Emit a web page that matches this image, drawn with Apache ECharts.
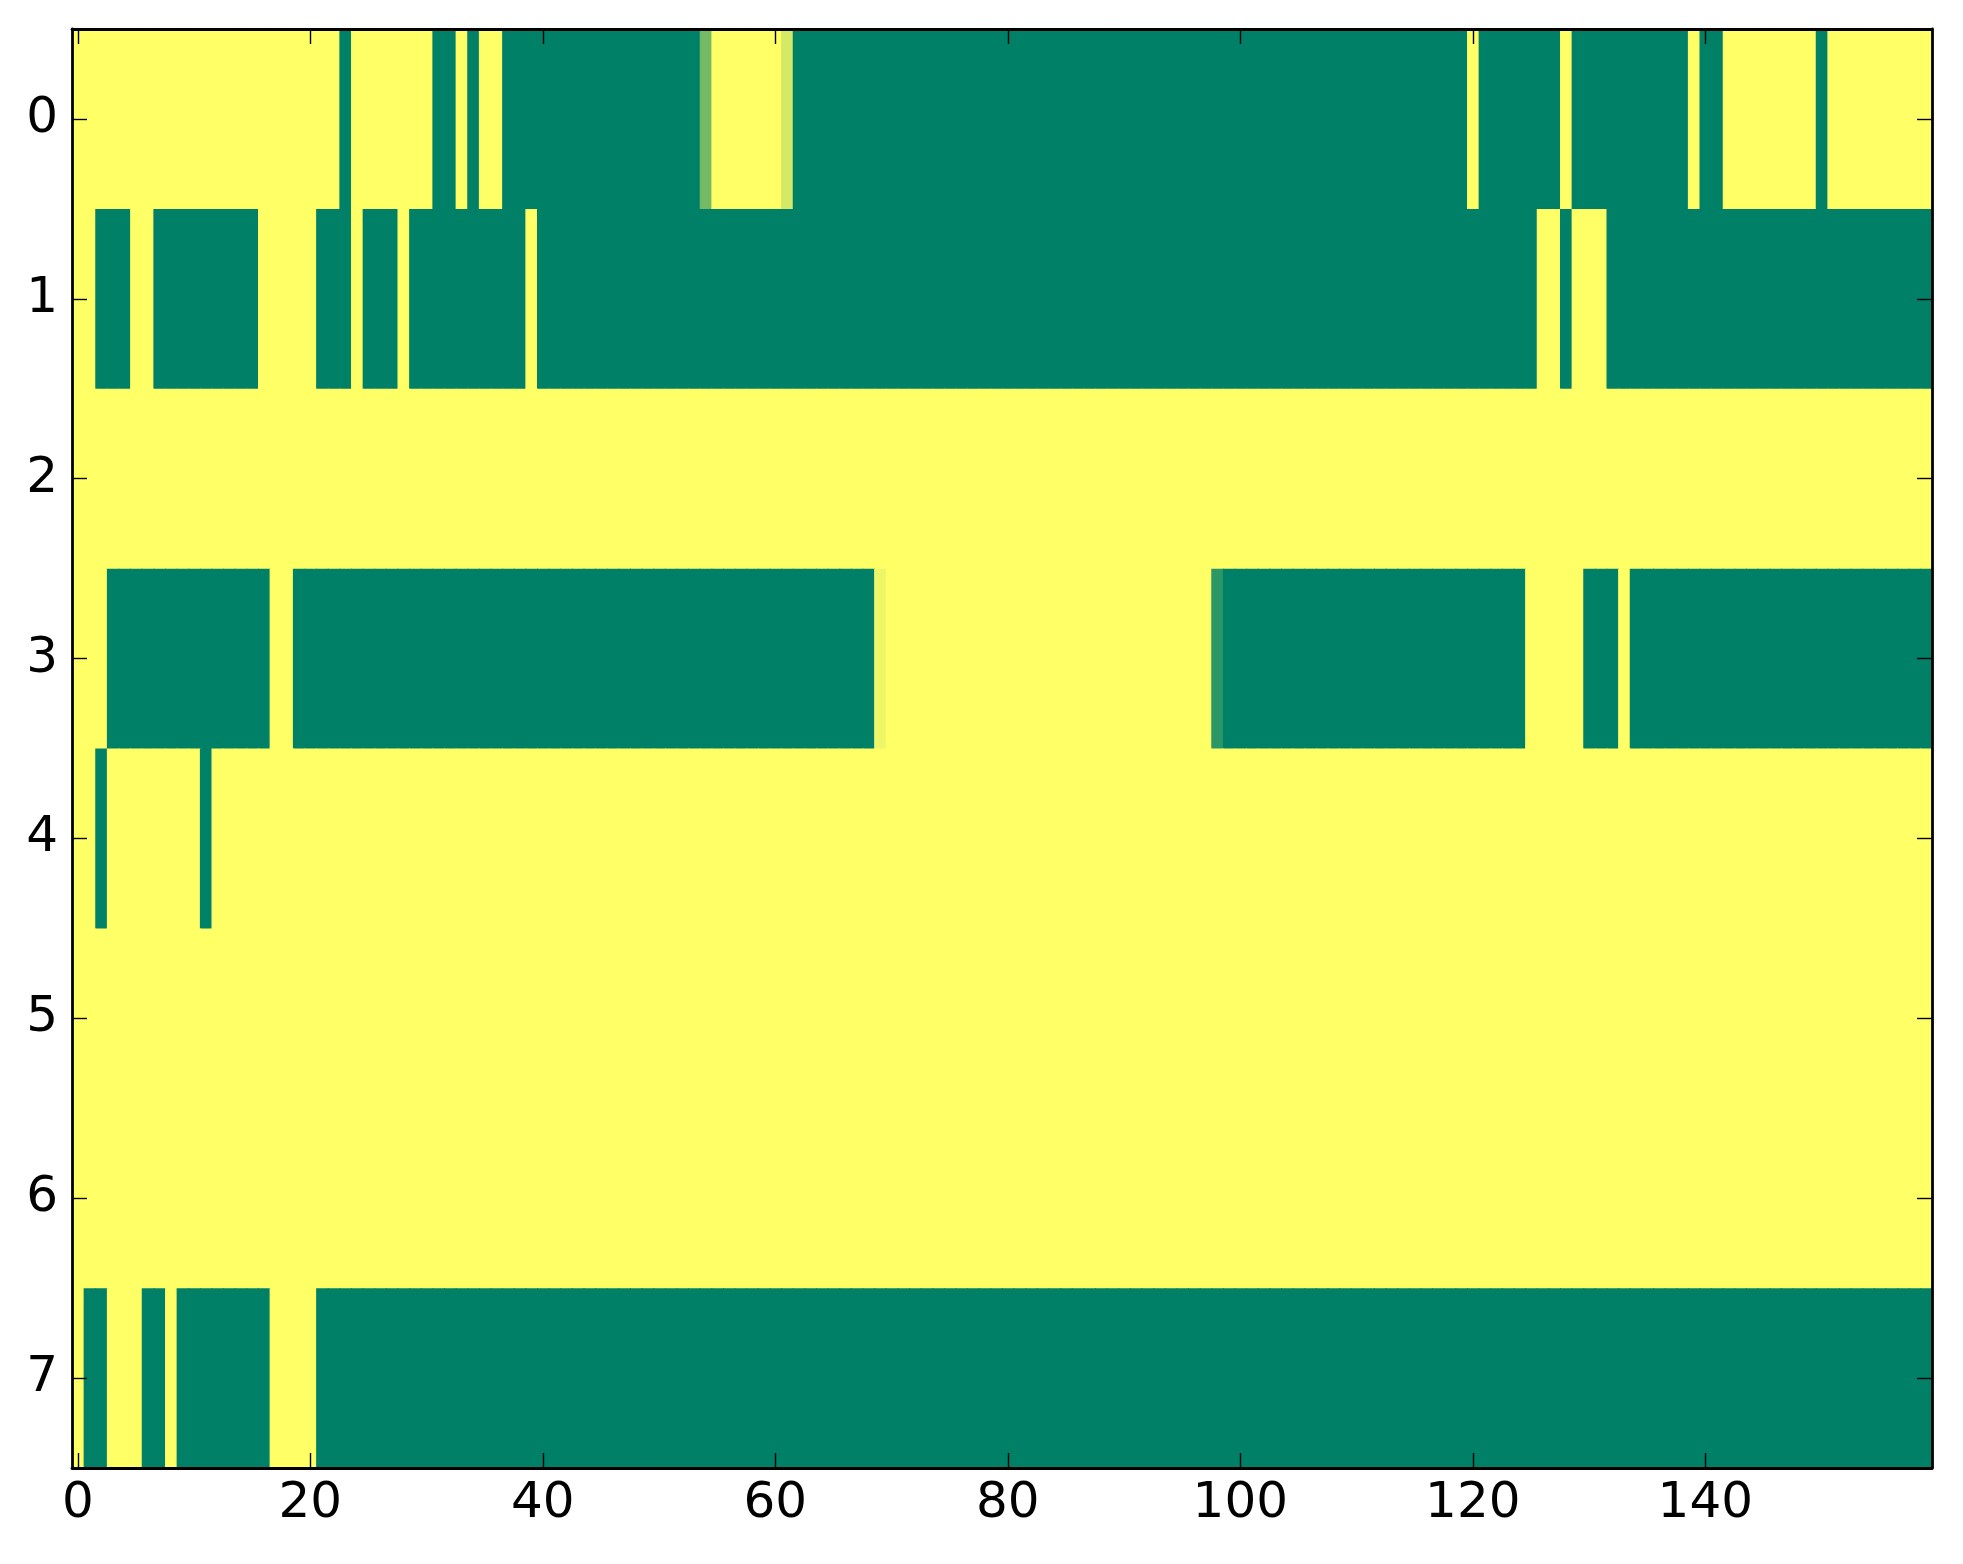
<!DOCTYPE html>
<html>
<head>
<meta charset="utf-8">
<script src="https://cdn.jsdelivr.net/npm/echarts@6/dist/echarts.min.js"></script>
<style>
html,body{margin:0;padding:0;background:#fff;}
#chart{width:1963px;height:1564px;}
</style>
</head>
<body>
<div id="chart"></div>
<script>
const xCategories = Array.from({length:160}, (_, i) => String(i));
const yCategories = ['0','1','2','3','4','5','6','7'];
const xTickLabels = ['0','20','40','60','80','100','120','140'];

const row0 = [
1,1,1,1,1,1,1,1,1,1,
1,1,1,1,1,1,1,1,1,1,
1,1,1,0,1,1,1,1,1,1,
1,0,0,1,0,1,1,0,0,0,
0,0,0,0,0,0,0,0,0,0,
0,0,0,0,0.45,1,1,1,1,1,
1,0.83,0,0,0,0,0,0,0,0,
0,0,0,0,0,0,0,0,0,0,
0,0,0,0,0,0,0,0,0,0,
0,0,0,0,0,0,0,0,0,0,
0,0,0,0,0,0,0,0,0,0,
0,0,0,0,0,0,0,0,0,0,
1,0,0,0,0,0,0,0,1,0,
0,0,0,0,0,0,0,0,0,1,
0,0,1,1,1,1,1,1,1,1,
0,1,1,1,1,1,1,1,1,1
];
const row1 = [
1,1,0,0,0,1,1,0,0,0,
0,0,0,0,0,0,1,1,1,1,
1,0,0,0,1,0,0,0,1,0,
0,0,0,0,0,0,0,0,0,1,
0,0,0,0,0,0,0,0,0,0,
0,0,0,0,0,0,0,0,0,0,
0,0,0,0,0,0,0,0,0,0,
0,0,0,0,0,0,0,0,0,0,
0,0,0,0,0,0,0,0,0,0,
0,0,0,0,0,0,0,0,0,0,
0,0,0,0,0,0,0,0,0,0,
0,0,0,0,0,0,0,0,0,0,
0,0,0,0,0,0,1,1,0,1,
1,1,0,0,0,0,0,0,0,0,
0,0,0,0,0,0,0,0,0,0,
0,0,0,0,0,0,0,0,0,0
];
const row2 = [
1,1,1,1,1,1,1,1,1,1,
1,1,1,1,1,1,1,1,1,1,
1,1,1,1,1,1,1,1,1,1,
1,1,1,1,1,1,1,1,1,1,
1,1,1,1,1,1,1,1,1,1,
1,1,1,1,1,1,1,1,1,1,
1,1,1,1,1,1,1,1,1,1,
1,1,1,1,1,1,1,1,1,1,
1,1,1,1,1,1,1,1,1,1,
1,1,1,1,1,1,1,1,1,1,
1,1,1,1,1,1,1,1,1,1,
1,1,1,1,1,1,1,1,1,1,
1,1,1,1,1,1,1,1,1,1,
1,1,1,1,1,1,1,1,1,1,
1,1,1,1,1,1,1,1,1,1,
1,1,1,1,1,1,1,1,1,1
];
const row3 = [
1,1,1,0,0,0,0,0,0,0,
0,0,0,0,0,0,0,1,1,0,
0,0,0,0,0,0,0,0,0,0,
0,0,0,0,0,0,0,0,0,0,
0,0,0,0,0,0,0,0,0,0,
0,0,0,0,0,0,0,0,0,0,
0,0,0,0,0,0,0,0,0,0.93,
1,1,1,1,1,1,1,1,1,1,
1,1,1,1,1,1,1,1,1,1,
1,1,1,1,1,1,1,1,0.17,0,
0,0,0,0,0,0,0,0,0,0,
0,0,0,0,0,0,0,0,0,0,
0,0,0,0,0,1,1,1,1,1,
0,0,0,1,0,0,0,0,0,0,
0,0,0,0,0,0,0,0,0,0,
0,0,0,0,0,0,0,0,0,0
];
const row4 = [
1,1,0,1,1,1,1,1,1,1,
1,0,1,1,1,1,1,1,1,1,
1,1,1,1,1,1,1,1,1,1,
1,1,1,1,1,1,1,1,1,1,
1,1,1,1,1,1,1,1,1,1,
1,1,1,1,1,1,1,1,1,1,
1,1,1,1,1,1,1,1,1,1,
1,1,1,1,1,1,1,1,1,1,
1,1,1,1,1,1,1,1,1,1,
1,1,1,1,1,1,1,1,1,1,
1,1,1,1,1,1,1,1,1,1,
1,1,1,1,1,1,1,1,1,1,
1,1,1,1,1,1,1,1,1,1,
1,1,1,1,1,1,1,1,1,1,
1,1,1,1,1,1,1,1,1,1,
1,1,1,1,1,1,1,1,1,1
];
const row5 = [
1,1,1,1,1,1,1,1,1,1,
1,1,1,1,1,1,1,1,1,1,
1,1,1,1,1,1,1,1,1,1,
1,1,1,1,1,1,1,1,1,1,
1,1,1,1,1,1,1,1,1,1,
1,1,1,1,1,1,1,1,1,1,
1,1,1,1,1,1,1,1,1,1,
1,1,1,1,1,1,1,1,1,1,
1,1,1,1,1,1,1,1,1,1,
1,1,1,1,1,1,1,1,1,1,
1,1,1,1,1,1,1,1,1,1,
1,1,1,1,1,1,1,1,1,1,
1,1,1,1,1,1,1,1,1,1,
1,1,1,1,1,1,1,1,1,1,
1,1,1,1,1,1,1,1,1,1,
1,1,1,1,1,1,1,1,1,1
];
const row6 = [
1,1,1,1,1,1,1,1,1,1,
1,1,1,1,1,1,1,1,1,1,
1,1,1,1,1,1,1,1,1,1,
1,1,1,1,1,1,1,1,1,1,
1,1,1,1,1,1,1,1,1,1,
1,1,1,1,1,1,1,1,1,1,
1,1,1,1,1,1,1,1,1,1,
1,1,1,1,1,1,1,1,1,1,
1,1,1,1,1,1,1,1,1,1,
1,1,1,1,1,1,1,1,1,1,
1,1,1,1,1,1,1,1,1,1,
1,1,1,1,1,1,1,1,1,1,
1,1,1,1,1,1,1,1,1,1,
1,1,1,1,1,1,1,1,1,1,
1,1,1,1,1,1,1,1,1,1,
1,1,1,1,1,1,1,1,1,1
];
const row7 = [
1,0,0,1,1,1,0,0,1,0,
0,0,0,0,0,0,0,1,1,1,
1,0,0,0,0,0,0,0,0,0,
0,0,0,0,0,0,0,0,0,0,
0,0,0,0,0,0,0,0,0,0,
0,0,0,0,0,0,0,0,0,0,
0,0,0,0,0,0,0,0,0,0,
0,0,0,0,0,0,0,0,0,0,
0,0,0,0,0,0,0,0,0,0,
0,0,0,0,0,0,0,0,0,0,
0,0,0,0,0,0,0,0,0,0,
0,0,0,0,0,0,0,0,0,0,
0,0,0,0,0,0,0,0,0,0,
0,0,0,0,0,0,0,0,0,0,
0,0,0,0,0,0,0,0,0,0,
0,0,0,0,0,0,0,0,0,0
];
const rows = [row0,row1,row2,row3,row4,row5,row6,row7];

const data = [];
rows.forEach((r, y) => r.forEach((v, x) => data.push([x, y, v])));

const isXTick = (idx) => xTickLabels.indexOf(xCategories[idx]) >= 0;

const font = 'DejaVu Sans';
const lineStyle = {color:'#000', width:2.8};
const tickStyle = {color:'#000', width:1.4};

const chart = echarts.init(document.getElementById('chart'), null, {renderer:'canvas'});
chart.setOption({
  animation:false,
  backgroundColor:'#fff',
  grid:{left:72, right:31, top:29, bottom:96, containLabel:false},
  xAxis:[
    {type:'category', data:xCategories, position:'bottom', z:10,
     axisLine:{show:true, lineStyle:lineStyle},
     axisTick:{show:true, inside:true, length:15, alignWithLabel:true, interval:(i)=>isXTick(i), lineStyle:tickStyle},
     axisLabel:{show:true, interval:(i)=>isXTick(i), color:'#000', fontFamily:font, fontSize:50, margin:11},
     splitLine:{show:false}},
    {type:'category', data:xCategories, position:'top', z:10,
     axisLine:{show:true, lineStyle:lineStyle},
     axisTick:{show:true, inside:true, length:15, alignWithLabel:true, interval:(i)=>isXTick(i), lineStyle:tickStyle},
     axisLabel:{show:false},
     splitLine:{show:false}}
  ],
  yAxis:[
    {type:'category', data:yCategories, inverse:true, position:'left', z:10,
     axisLine:{show:true, lineStyle:lineStyle},
     axisTick:{show:true, inside:true, length:15, alignWithLabel:true, interval:0, lineStyle:tickStyle},
     axisLabel:{show:true, interval:0, color:'#000', fontFamily:font, fontSize:50, margin:14},
     splitLine:{show:false}},
    {type:'category', data:yCategories, inverse:true, position:'right', z:10,
     axisLine:{show:true, lineStyle:lineStyle},
     axisTick:{show:true, inside:true, length:15, alignWithLabel:true, interval:0, lineStyle:tickStyle},
     axisLabel:{show:false},
     splitLine:{show:false}}
  ],
  visualMap:{type:'continuous', show:false, min:0, max:1, dimension:2, seriesIndex:0,
    inRange:{color:['#008066','#ffff66']}},
  series:[{
    type:'custom', xAxisIndex:0, yAxisIndex:0, data:data, clip:true,
    encode:{x:0, y:1},
    renderItem:function(params, api){
      const p = api.coord([api.value(0), api.value(1)]);
      const s = api.size([1, 1]);
      return {
        type:'rect',
        shape:{x:p[0]-s[0]/2, y:p[1]-s[1]/2, width:s[0]+1, height:s[1]+1},
        style:{fill:api.visual('color'), stroke:null, lineWidth:0}
      };
    }
  }]
});
</script>
</body>
</html>
